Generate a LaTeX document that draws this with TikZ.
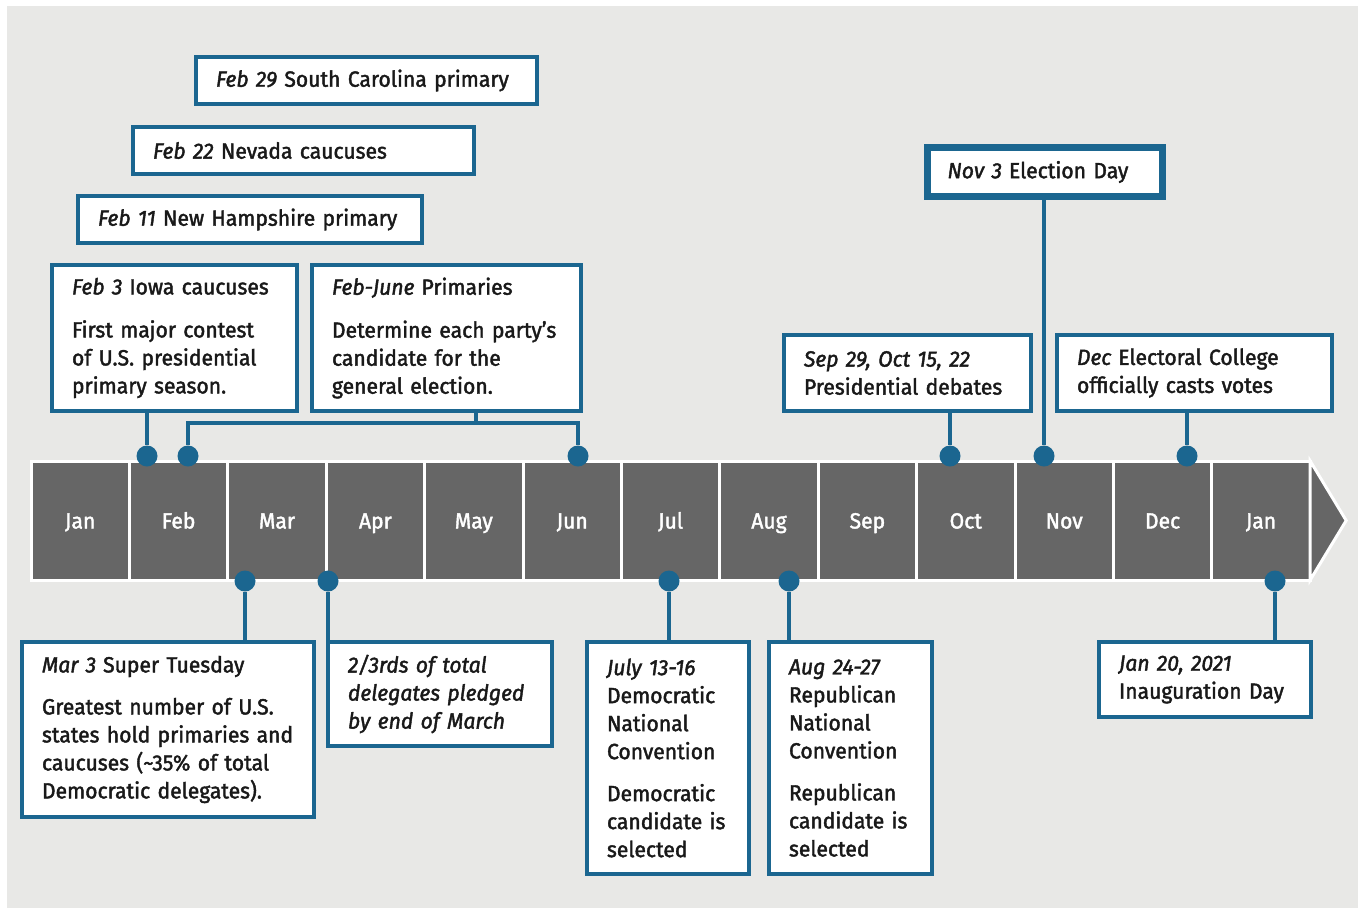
\documentclass[tikz,border=0pt]{standalone}
\usepackage{fontspec}
\setmainfont{Fira Sans}[FakeStretch=0.96, FakeBold=1.8]
\usetikzlibrary{positioning, calc}

\definecolor{tlblue}{HTML}{1B6690}
\definecolor{tlgray}{HTML}{666666}
\definecolor{bggray}{HTML}{E8E8E6}

\begin{document}
\begin{tikzpicture}[x=1pt, y=1pt,
        month_box/.style={
            draw=white, line width=3pt, fill=tlgray, outer sep=0pt, inner sep=0pt,
            minimum width=98.4pt, minimum height=119pt, text height=21pt, text depth=5pt,
            text=white, font=\fontsize{22}{26}\selectfont
        },
        event_box/.style={
            draw=tlblue, line width=4pt, fill=white, outer sep=0pt, anchor=north west,
            inner xsep=20pt, inner ysep=0pt, align=left, text=black!90,
            font=\fontsize{22}{28}\selectfont
        },
        pin_dot/.style={circle, fill=tlblue, inner sep=0pt, minimum size=21pt},
        pin_line/.style={draw=tlblue, line width=4pt, line join=miter}
    ]

    % Canvas
    \useasboundingbox (0,0) rectangle (1358,-908);
    \fill[bggray] (7,-6) rectangle (1358,-908);

    % Months (left to right)
    \node[month_box, anchor=north west] (m_jan) at (31,-461) {Jan};
    \node[month_box, right=0pt of m_jan] (m_feb) {Feb};
    \node[month_box, right=0pt of m_feb] (m_mar) {Mar};
    \node[month_box, right=0pt of m_mar] (m_apr) {Apr};
    \node[month_box, right=0pt of m_apr] (m_may) {May};
    \node[month_box, right=0pt of m_may] (m_jun) {Jun};
    \node[month_box, right=0pt of m_jun] (m_jul) {Jul};
    \node[month_box, right=0pt of m_jul] (m_aug) {Aug};
    \node[month_box, right=0pt of m_aug] (m_sep) {Sep};
    \node[month_box, right=0pt of m_sep] (m_oct) {Oct};
    \node[month_box, right=0pt of m_oct] (m_nov) {Nov};
    \node[month_box, right=0pt of m_nov] (m_dec) {Dec};
    \node[month_box, right=0pt of m_dec] (m_jan2) {Jan};
    \filldraw[fill=tlgray, draw=white, line width=3pt, line join=miter]
        (m_jan2.north east) -- ($(m_jan2.east)+(36,0)$) -- (m_jan2.south east) -- cycle;

    % Events above the line
    \node[event_box, text width=301pt, minimum height=47pt] (e_sc) at (196,-57)
        {\textit{Feb 29} South Carolina primary};
    \node[event_box, text width=301pt, minimum height=47pt] (e_nv) at (133,-127)
        {\textit{Feb 22} Nevada caucuses};
    \node[event_box, text width=304pt, minimum height=47pt] (e_nh) at (78,-196)
        {\textit{Feb 11} New Hampshire primary};
    \node[event_box, text width=205pt, minimum height=146pt] (e_ia) at (52,-265)
        {\textit{Feb 3}\hspace{7pt}Iowa caucuses\\[15pt]
         First major contest\\ of U.S. presidential\\ primary season.};
    \node[event_box, text width=229pt, minimum height=146pt] (e_pr) at (312,-265)
        {\textit{Feb-June}\hspace{7pt}Primaries\\[15pt]
         Determine each party’s\\ candidate for the\\ general election.};
    \node[event_box, line width=7pt, text width=195pt, minimum height=49pt] (e_nov) at (927.5,-147.5)
        {\textit{Nov 3}\hspace{7pt}Election Day};
    \node[event_box, text width=207pt, minimum height=76pt] (e_deb) at (784,-335)
        {\textit{Sep 29, Oct 15, 22}\\ Presidential debates};
    \node[event_box, text width=235pt, minimum height=76pt] (e_ec) at (1057,-335)
        {\textit{Dec}\hspace{7pt}Electoral College\\ officially casts votes};

    % Events below the line
    \node[event_box, text width=252pt, minimum height=175pt] (e_st) at (22,-642)
        {\textit{Mar 3}\hspace{7pt}Super Tuesday\\[14pt]
         Greatest number of U.S.\\ states hold primaries and\\
         caucuses (\textasciitilde35\% of total\\ Democratic delegates).};
    \node[event_box, text width=184pt, minimum height=104pt] (e_tt) at (328,-642)
        {\itshape 2/3rds of total\\ delegates pledged\\ by end of March};
    \node[event_box, text width=122pt, minimum height=232pt] (e_dnc) at (587,-642)
        {\textit{July 13-16}\\ Democratic\\ National\\ Convention\\[14pt]
         Democratic\\ candidate is\\ selected};
    \node[event_box, text width=123pt, minimum height=232pt] (e_rnc) at (769,-642)
        {\textit{Aug 24-27}\\ Republican\\ National\\ Convention\\[14pt]
         Republican\\ candidate is\\ selected};
    \node[event_box, text width=172pt, minimum height=75pt] (e_inaug) at (1099,-642)
        {\textit{Jan 20, 2021}\\ Inauguration Day};

    % Pins on the line
    \node[pin_dot] (d_ia) at (147,-456) {};
    \node[pin_dot] (d_pra) at (188,-456) {};
    \node[pin_dot] (d_prb) at (578,-456) {};
    \node[pin_dot] (d_deb) at (950,-456) {};
    \node[pin_dot] (d_nov) at (1044,-456) {};
    \node[pin_dot] (d_ec) at (1187,-456) {};
    \node[pin_dot] (d_st) at (245,-581) {};
    \node[pin_dot] (d_tt) at (328,-581) {};
    \node[pin_dot] (d_dnc) at (669,-581) {};
    \node[pin_dot] (d_rnc) at (789,-581) {};
    \node[pin_dot] (d_inaug) at (1275,-581) {};
    \coordinate (pr_tap) at (476,-423);

    % Connectors
    \draw[pin_line] (d_ia |- e_ia.south) -- (d_ia);
    \draw[pin_line] (pr_tap |- e_pr.south) -- (pr_tap);
    \draw[pin_line] (d_pra) |- (pr_tap) -| (d_prb);
    \draw[pin_line] (d_deb |- e_deb.south) -- (d_deb);
    \draw[pin_line] (d_nov |- e_nov.south) -- (d_nov);
    \draw[pin_line] (d_ec |- e_ec.south) -- (d_ec);
    \draw[pin_line] (d_st) -- (d_st |- e_st.north);
    \draw[pin_line] (d_tt) -- (d_tt |- e_tt.north);
    \draw[pin_line] (d_dnc) -- (d_dnc |- e_dnc.north);
    \draw[pin_line] (d_rnc) -- (d_rnc |- e_rnc.north);
    \draw[pin_line] (d_inaug) -- (d_inaug |- e_inaug.north);

\end{tikzpicture}
\end{document}
